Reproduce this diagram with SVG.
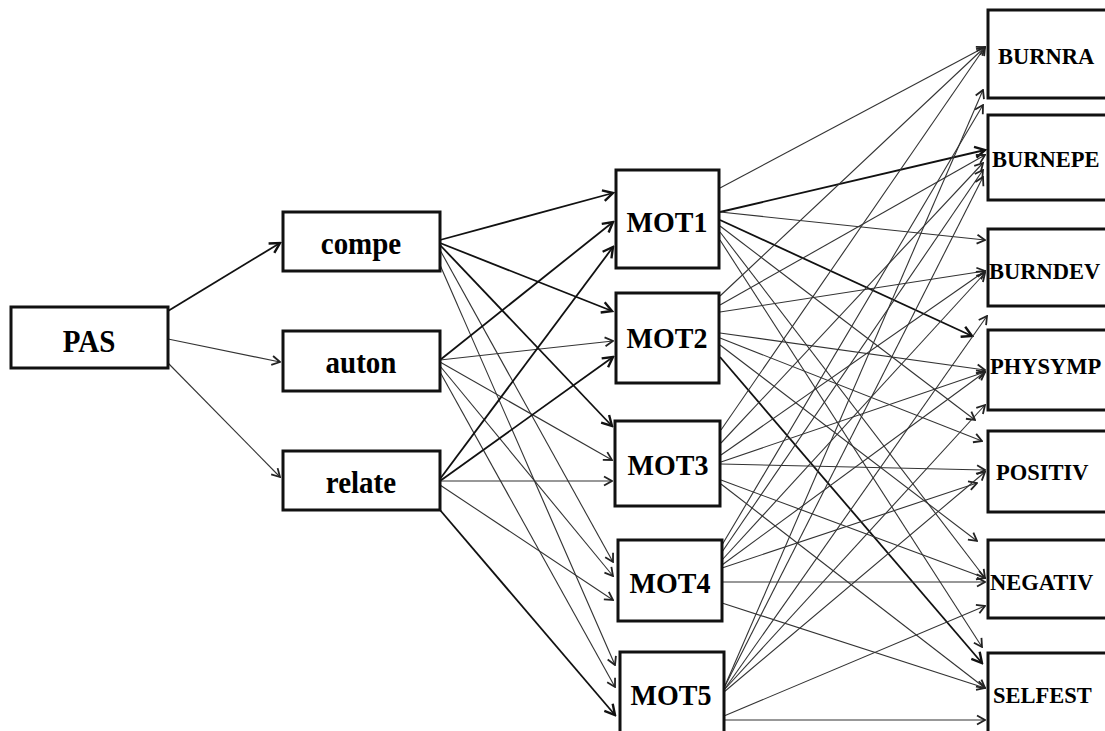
<svg xmlns="http://www.w3.org/2000/svg" width="1105" height="731" viewBox="0 0 1105 731">
<style>
.box{fill:#fff;stroke:#111;stroke-width:3}
.t{font-family:"Liberation Serif","Times New Roman",serif;font-weight:bold;fill:#000}
.l{font-size:29px}
.m{font-size:28px}
.r{font-size:22.5px}
.e{stroke:#333;stroke-width:1.1;fill:none;marker-end:url(#a)}
.k{stroke:#111;stroke-width:1.8;fill:none;marker-end:url(#ak)}
</style>
<defs>
<marker id="a" markerWidth="12" markerHeight="12" viewBox="-11 -6 12 12" refX="0" refY="0" orient="auto" markerUnits="userSpaceOnUse"><path d="M-8,-4.5 L0,0 L-8,4.5" fill="none" stroke="#222" stroke-width="1.8"/></marker>
<marker id="ak" markerWidth="14" markerHeight="14" viewBox="-12 -7 14 14" refX="0" refY="0" orient="auto" markerUnits="userSpaceOnUse"><path d="M-10,-5.5 L0,0 L-10,5.5" fill="none" stroke="#111" stroke-width="2.4"/></marker>
</defs>
<rect width="1105" height="731" fill="#fff"/>
<g id="connectors">
<line class="k" x1="168" y1="311" x2="280" y2="243"/>
<line class="e" x1="168" y1="339" x2="280" y2="362"/>
<line class="e" x1="168" y1="363" x2="280" y2="477"/>

<line class="k" x1="440" y1="240" x2="613" y2="193"/>
<line class="k" x1="440" y1="243" x2="612" y2="311"/>
<line class="k" x1="440" y1="245" x2="612" y2="426"/>
<line class="e" x1="440" y1="250" x2="613" y2="562"/>
<line class="e" x1="440" y1="265" x2="615" y2="665"/>

<line class="k" x1="440" y1="360" x2="613" y2="222"/>
<line class="e" x1="440" y1="360" x2="613" y2="341"/>
<line class="e" x1="440" y1="362" x2="612" y2="460"/>
<line class="e" x1="440" y1="366" x2="613" y2="576"/>
<line class="e" x1="440" y1="372" x2="615" y2="687"/>

<line class="k" x1="440" y1="479" x2="613" y2="247"/>
<line class="k" x1="440" y1="481" x2="613" y2="357"/>
<line class="e" x1="440" y1="481" x2="612" y2="481"/>
<line class="e" x1="440" y1="485" x2="613" y2="600"/>
<line class="k" x1="440" y1="510" x2="615" y2="715"/>

<line class="e" x1="720" y1="188" x2="985" y2="47"/>
<line class="k" x1="720" y1="212" x2="985" y2="150"/>
<line class="e" x1="720" y1="212" x2="985" y2="240"/>
<line class="k" x1="720" y1="220" x2="972" y2="336"/>
<line class="e" x1="720" y1="226" x2="975" y2="420"/>
<line class="e" x1="720" y1="232" x2="985" y2="578"/>
<line class="e" x1="720" y1="240" x2="982" y2="647"/>

<line class="e" x1="720" y1="296" x2="985" y2="47"/>
<line class="e" x1="720" y1="305" x2="985" y2="155"/>
<line class="e" x1="720" y1="312" x2="985" y2="271"/>
<line class="e" x1="720" y1="333" x2="985" y2="370"/>
<line class="e" x1="720" y1="338" x2="982" y2="441"/>
<line class="e" x1="720" y1="345" x2="977" y2="541"/>
<line class="k" x1="720" y1="357" x2="982" y2="663"/>

<line class="e" x1="721" y1="430" x2="985" y2="47"/>
<line class="e" x1="721" y1="443" x2="983" y2="163"/>
<line class="e" x1="721" y1="455" x2="985" y2="271"/>
<line class="e" x1="721" y1="462" x2="985" y2="372"/>
<line class="e" x1="721" y1="464" x2="985" y2="470"/>
<line class="e" x1="721" y1="480" x2="985" y2="578"/>
<line class="e" x1="721" y1="484" x2="985" y2="688"/>

<line class="e" x1="722" y1="545" x2="983" y2="105"/>
<line class="e" x1="722" y1="552" x2="983" y2="170"/>
<line class="e" x1="722" y1="560" x2="985" y2="273"/>
<line class="e" x1="722" y1="565" x2="985" y2="372"/>
<line class="e" x1="722" y1="568" x2="977" y2="483"/>
<line class="e" x1="722" y1="582" x2="985" y2="582"/>
<line class="e" x1="722" y1="603" x2="985" y2="688"/>

<line class="e" x1="724" y1="688" x2="983" y2="90"/>
<line class="e" x1="724" y1="688" x2="983" y2="177"/>
<line class="e" x1="724" y1="690" x2="987" y2="316"/>
<line class="e" x1="724" y1="690" x2="985" y2="405"/>
<line class="e" x1="724" y1="692" x2="985" y2="472"/>
<line class="e" x1="724" y1="716" x2="985" y2="606"/>
<line class="e" x1="724" y1="720" x2="985" y2="720"/>
</g>
<g id="PAS"><rect class="box" x="11" y="307" width="157" height="61"/><text class="t l" transform="translate(89,352) scale(1,1.12)" text-anchor="middle">PAS</text></g>
<g id="compe"><rect class="box" x="283" y="212" width="157" height="59"/><text class="t l" transform="translate(361,254) scale(1,1.12)" text-anchor="middle">compe</text></g>
<g id="auton"><rect class="box" x="283" y="331" width="157" height="60"/><text class="t l" transform="translate(361,373) scale(1,1.12)" text-anchor="middle">auton</text></g>
<g id="relate"><rect class="box" x="283" y="451" width="157" height="59"/><text class="t l" transform="translate(361,493) scale(1,1.12)" text-anchor="middle">relate</text></g>
<g id="MOT1"><rect class="box" x="616" y="170" width="103" height="98"/><text class="t m" transform="translate(667,232) scale(1,1.08)" text-anchor="middle">MOT1</text></g>
<g id="MOT2"><rect class="box" x="616" y="293" width="103" height="90"/><text class="t m" transform="translate(667,348) scale(1,1.08)" text-anchor="middle">MOT2</text></g>
<g id="MOT3"><rect class="box" x="615" y="421" width="105" height="85"/><text class="t m" transform="translate(668,475) scale(1,1.08)" text-anchor="middle">MOT3</text></g>
<g id="MOT4"><rect class="box" x="618" y="540" width="104" height="81"/><text class="t m" transform="translate(670,593) scale(1,1.08)" text-anchor="middle">MOT4</text></g>
<g id="MOT5"><rect class="box" x="620" y="652" width="104" height="90"/><text class="t m" transform="translate(671,705) scale(1,1.08)" text-anchor="middle">MOT5</text></g>
<g id="BURNRA"><rect class="box" x="988" y="10" width="140" height="88"/><text class="t r" x="998" y="64">BURNRA</text></g>
<g id="BURNEPE"><rect class="box" x="988" y="115" width="140" height="85"/><text class="t r" x="992" y="167">BURNEPE</text></g>
<g id="BURNDEV"><rect class="box" x="988" y="229" width="140" height="77"/><text class="t r" x="989" y="279">BURNDEV</text></g>
<g id="PHYSYMP"><rect class="box" x="988" y="330" width="140" height="80"/><text class="t r" x="990" y="374">PHYSYMP</text></g>
<g id="POSITIV"><rect class="box" x="988" y="431" width="140" height="81"/><text class="t r" x="996" y="480">POSITIV</text></g>
<g id="NEGATIV"><rect class="box" x="988" y="540" width="140" height="78"/><text class="t r" x="990" y="590">NEGATIV</text></g>
<g id="SELFEST"><rect class="box" x="988" y="653" width="140" height="90"/><text class="t r" x="993" y="703">SELFEST</text></g>
</svg>
